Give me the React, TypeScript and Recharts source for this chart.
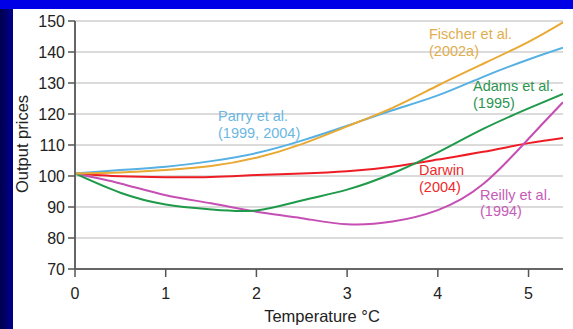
import React from 'react';
import { LineChart, Line, XAxis, YAxis, CartesianGrid } from 'recharts';

// Temperature (°C) sample points
const temps = [0, 0.5, 1, 1.5, 2, 2.5, 3, 3.5, 4, 4.5, 5, 5.38];

// Output prices per study
const fischer = [100.8, 101.1, 101.9, 103.2, 105.9, 110.3, 116, 122, 129.2, 136.2, 143.3, 149.6];
const parry = [100.8, 101.9, 103, 104.8, 107.4, 111.4, 116.2, 121.2, 126, 132, 137.6, 141.4];
const adams = [100.8, 94.6, 90.8, 89.2, 88.9, 92.1, 95.6, 100.8, 107.6, 115.2, 121.8, 126.5];
const darwin = [100.8, 99.9, 99.6, 99.7, 100.3, 100.8, 101.5, 103, 105.3, 107.8, 110.6, 112.3];
const reilly = [100.8, 97.6, 93.8, 91.2, 88.5, 86.4, 84.4, 85.3, 89, 97.4, 112, 123.8];

const xTicks = [0, 1, 2, 3, 4, 5];
const yTicks = [70, 80, 90, 100, 110, 120, 130, 140, 150];

const series = [
  { key: 'darwin', color: '#ee1d25' },
  { key: 'reilly', color: '#c64fb4' },
  { key: 'adams', color: '#1f9a4b' },
  { key: 'parry', color: '#56b0e2' },
  { key: 'fischer', color: '#e9a932' },
];

const notes = [
  { lines: ['Fischer et al.', '(2002a)'], color: '#e2ad4e', x: 429, y: 39 },
  { lines: ['Parry et al.', '(1999, 2004)'], color: '#6ab7e2', x: 218, y: 121 },
  { lines: ['Adams et al.', '(1995)'], color: '#2d9550', x: 473, y: 91 },
  { lines: ['Darwin', '(2004)'], color: '#ee2b2b', x: 419, y: 175 },
  { lines: ['Reilly et al.', '(1994)'], color: '#c65bb7', x: 480, y: 199.5 },
];

const data = temps.map((t, i) => ({
  t,
  fischer: fischer[i],
  parry: parry[i],
  adams: adams[i],
  darwin: darwin[i],
  reilly: reilly[i],
}));

const FONT = '"Liberation Sans", Arial, Helvetica, sans-serif';

export default function App() {
  return (
    <div style={{ position: 'absolute', left: 0, top: 0, width: 573, height: 329, background: '#fff', overflow: 'hidden', fontFamily: FONT }}>
      <div style={{ position: 'absolute', left: 0, top: 0, width: 573, height: 9, background: '#0000e6' }} />
      <div style={{ position: 'absolute', left: 0, top: 9, width: 13, height: 320, background: 'linear-gradient(to right, #00004e, #00008e)' }} />

      <div style={{ position: 'absolute', left: 0, top: 0 }}>
        <LineChart width={573} height={329} data={data} margin={{ top: 21, right: 10, bottom: 20, left: 15 }}>
          <CartesianGrid horizontal vertical={false} stroke="#cfcfcf" strokeWidth={1.5} />
          <XAxis
            dataKey="t"
            type="number"
            domain={[0, 5.38]}
            ticks={xTicks}
            allowDataOverflow
            height={40}
            tickSize={8}
            tickMargin={11}
            axisLine={{ stroke: '#666', strokeWidth: 2 }}
            tickLine={{ stroke: '#555', strokeWidth: 1.5 }}
            tick={{ fill: '#222', fontSize: 16, fontFamily: FONT }}
          />
          <XAxis xAxisId="top" dataKey="t" type="number" domain={[0, 5.38]} orientation="top" height={0} tick={false} tickLine={false} axisLine={{ stroke: '#808080', strokeWidth: 2 }} />
          <YAxis
            type="number"
            domain={[70, 150]}
            ticks={yTicks}
            width={60}
            tickSize={7}
            tickMargin={3}
            axisLine={{ stroke: '#666', strokeWidth: 2 }}
            tickLine={{ stroke: '#555', strokeWidth: 1.5 }}
            tick={{ fill: '#222', fontSize: 16, fontFamily: FONT }}
          />
          <YAxis yAxisId="right" orientation="right" domain={[70, 150]} width={0} tick={false} tickLine={false} axisLine={{ stroke: '#666', strokeWidth: 2 }} />
          {series.map(s => (
            <Line
              key={s.key}
              dataKey={s.key}
              type="natural"
              stroke={s.color}
              strokeWidth={2}
              dot={false}
              isAnimationActive={false}
            />
          ))}
        </LineChart>
      </div>

      <svg width={573} height={329} style={{ position: 'absolute', left: 0, top: 0, pointerEvents: 'none' }}>
        <text transform="translate(28,144) rotate(-90)" textAnchor="middle" fontSize={16.5} fill="#222" fontFamily={FONT}>
          Output prices
        </text>
        <text x={322} y={322} textAnchor="middle" fontSize={16.5} fill="#222" fontFamily={FONT}>
          Temperature °C
        </text>
        {notes.map(n => (
          <text key={n.lines[0]} x={n.x} y={n.y} fontSize={14.5} fill={n.color} fontFamily={FONT}>
            {n.lines.map((l, i) => (
              <tspan key={i} x={n.x} dy={i === 0 ? 0 : 16.5}>{l}</tspan>
            ))}
          </text>
        ))}
      </svg>
    </div>
  );
}
